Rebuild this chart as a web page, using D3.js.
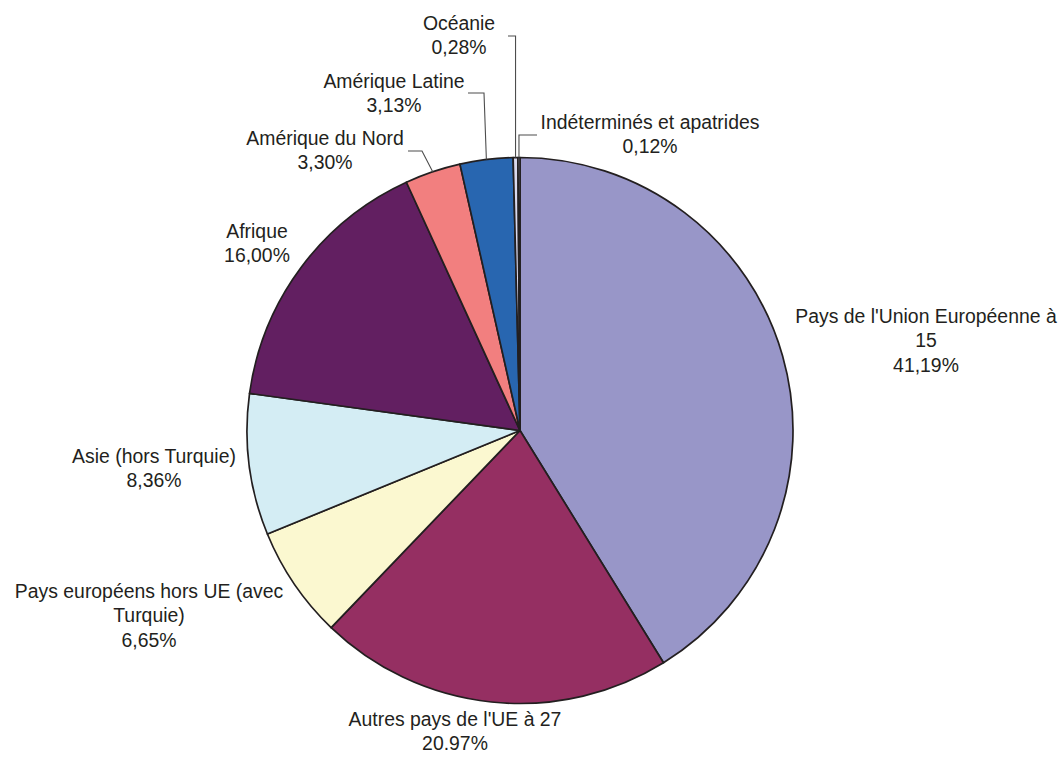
<!DOCTYPE html>
<html lang="fr">
<head>
<meta charset="utf-8">
<title>Répartition par origine</title>
<script src="https://cdn.jsdelivr.net/npm/d3@7"></script>
<style>
  html, body { margin: 0; padding: 0; background: #ffffff; }
  svg { display: block; }
  text { font-family: "Liberation Sans", Arial, sans-serif; font-size: 19.4px; fill: #231f20; }
</style>
</head>
<body>
<svg id="chart" width="1061" height="758"></svg>
<script>
// Slices, clockwise from 12 o'clock
const categories = [
  "Pays de l'Union Européenne à 15",
  "Autres pays de l'UE à 27",
  "Pays européens hors UE (avec Turquie)",
  "Asie (hors Turquie)",
  "Afrique",
  "Amérique du Nord",
  "Amérique Latine",
  "Océanie",
  "Indéterminés et apatrides"
];
const values = [41.19, 20.97, 6.65, 8.36, 16.00, 3.30, 3.13, 0.28, 0.12];
// Decimal separator used in each printed percentage
const separators = [",", ".", ",", ",", ",", ",", ",", ",", ","];
// Label text as it is broken over lines
const labelLines = [
  ["Pays de l'Union Européenne à", "15"],
  ["Autres pays de l'UE à 27"],
  ["Pays européens hors UE (avec", "Turquie)"],
  ["Asie (hors Turquie)"],
  ["Afrique"],
  ["Amérique du Nord"],
  ["Amérique Latine"],
  ["Océanie"],
  ["Indéterminés et apatrides"]
];
const colors = ["#9896c8", "#952f62", "#fbf8d0", "#d4edf4", "#621f61", "#f27f7f", "#2866b0", "#d9d9ee", "#b4b4cc"];

// Layout
const cx = 520, cy = 430.5, radius = 273;
const lineHeight = 24.3;
// Label anchor (centre x, first baseline y) per slice
const labelPos = [
  [926, 323], [455, 726], [149, 598], [154, 463], [257, 238],
  [325, 145], [394, 88], [459, 30], [650, 129]
];
// Leader lines for the small slices: elbow point and end point (null = none)
const leaders = [null, null, null, null, null,
  { elbow: [422, 151], end: [408, 151] },
  { elbow: [484, 93], end: [468, 93] },
  { elbow: [null, 36], end: [508, 36] },
  { elbow: [null, 135], end: [537, 135] }
];

const svg = d3.select("#chart");
const g = svg.append("g").attr("transform", `translate(${cx},${cy})`);

const data = categories.map((c, i) => ({ name: c, value: values[i], i }));
const pie = d3.pie().sort(null).value(d => d.value);
const arc = d3.arc().innerRadius(0).outerRadius(radius);
const arcs = pie(data);

g.selectAll("path.slice")
  .data(arcs)
  .join("path")
  .attr("class", "slice")
  .attr("d", arc)
  .attr("fill", d => colors[d.data.i])
  .attr("stroke", "#231f20")
  .attr("stroke-width", 1.7)
  .attr("stroke-linejoin", "round");

const fmt = (v, sep) => d3.format(".2f")(v).replace(".", sep) + "%";

// Leader lines
arcs.forEach(a => {
  const L = leaders[a.data.i];
  if (!L) return;
  const mid = (a.startAngle + a.endAngle) / 2;
  const px = cx + radius * Math.sin(mid);
  const py = cy - radius * Math.cos(mid);
  const ex = L.elbow[0] === null ? px : L.elbow[0];
  svg.append("polyline")
    .attr("points", [[px, py], [ex, L.elbow[1]], L.end].map(p => p.join(",")).join(" "))
    .attr("fill", "none")
    .attr("stroke", "#4d4d4d")
    .attr("stroke-width", 1.1);
});

// Labels
arcs.forEach(a => {
  const i = a.data.i;
  const lines = labelLines[i].concat([fmt(values[i], separators[i])]);
  const t = svg.append("text")
    .attr("text-anchor", "middle")
    .attr("x", labelPos[i][0])
    .attr("y", labelPos[i][1]);
  lines.forEach((ln, k) => {
    t.append("tspan")
      .attr("x", labelPos[i][0])
      .attr("dy", k === 0 ? 0 : lineHeight)
      .text(ln);
  });
});
</script>
</body>
</html>
